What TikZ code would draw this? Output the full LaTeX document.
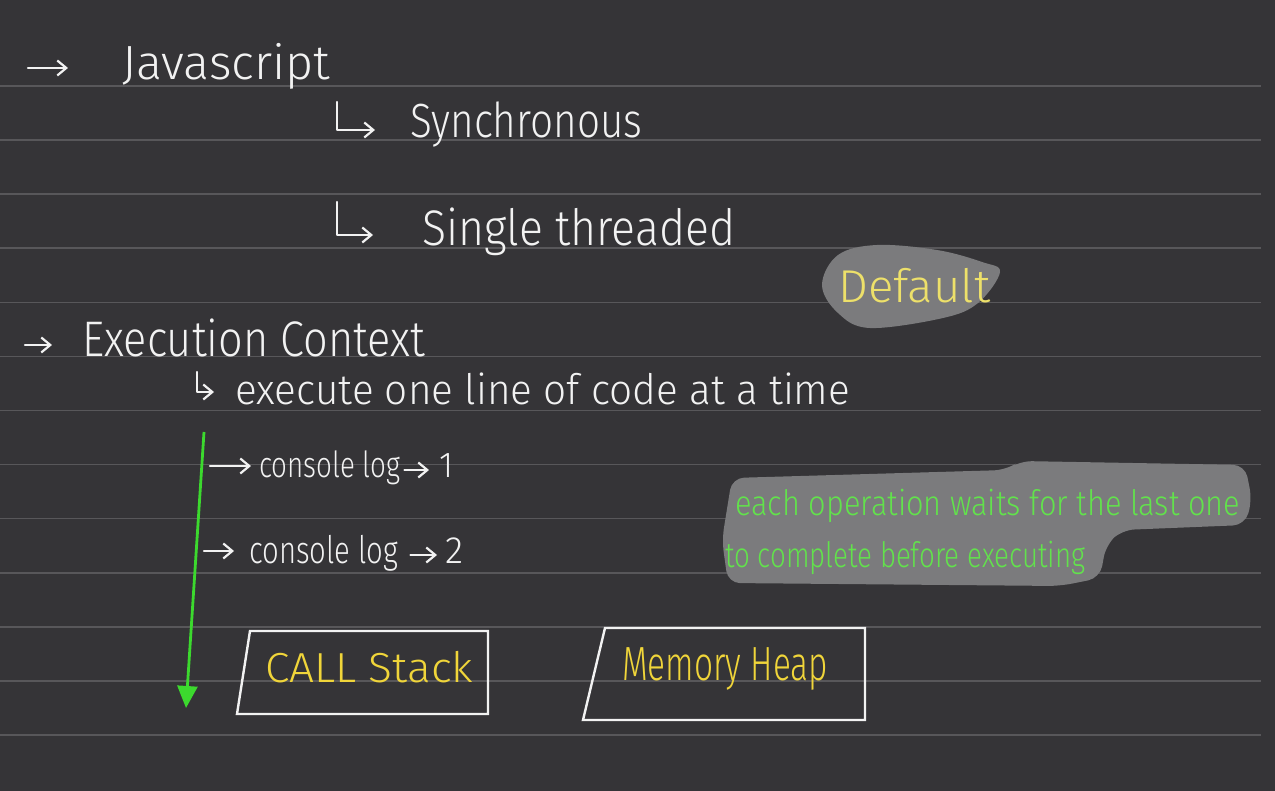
\documentclass[tikz,border=0pt]{standalone}
\usepackage{fontspec}
\usepackage{graphicx}
\usetikzlibrary{arrows.meta}
\newfontfamily\hand{Fira Sans Light}[FakeStretch=0.85]
\newcommand\handtxt[3]{\resizebox{#1pt}{\height}{\hand\fontsize{#2}{#2}\selectfont #3}}
\definecolor{bgc}{HTML}{353437}
\definecolor{rulec}{HTML}{58575A}
\definecolor{blobc}{HTML}{7B7B7D}
\definecolor{ink}{HTML}{F2F2F2}
\definecolor{yel}{HTML}{F0D53A}
\definecolor{yel2}{HTML}{EDE06A}
\definecolor{grn}{HTML}{62E24C}
\definecolor{grnarrow}{HTML}{3CD92E}
\tikzset{
  txt/.style={anchor=base west, inner sep=0pt, text=ink},
  wline/.style={draw=ink, line width=2.2pt, line cap=round, line join=round,
    -{Straight Barb[length=9pt,width=15pt,line width=2.2pt]}},
  boxline/.style={draw=ink, line width=2.4pt, line join=miter},
  ruleline/.style={draw=rulec, line width=1.6pt},
  blob/.style={fill=blobc},
  garrow/.style={draw=grnarrow, line width=2.8pt, -{Triangle[length=22pt,width=20pt]}}
}
\begin{document}
\begin{tikzpicture}[x=1pt,y=-1pt]
\useasboundingbox (0,0) rectangle (1275,791);
\fill[bgc] (0,0) rectangle (1275,791);
% ruled lines
\foreach \k in {0,...,12}{
  \draw[ruleline] (0,{86+54.08*\k}) -- (1261,{86+54.08*\k});
}
% highlight blobs
\fill[blob] plot[smooth cycle, tension=0.6] coordinates {(822,285) (838,255) (877,245) (937,250) (982,262) (1000,272) (978,303) (943,318) (870,328) (838,313)};
\fill[blob, rounded corners=12pt] (732,478) -- (1006,470) -- (1020,461) -- (1245,465) -- (1252,500) -- (1245,525) -- (1122,530) -- (1106,545) -- (1100,578) -- (1060,586) -- (728,583) -- (722,540) -- cycle;

% texts
\node[txt] (js) at (122,80) {\handtxt{208}{48}{Javascript}};
\node[txt] (syn) at (410,138) {\handtxt{232}{48}{Synchronous}};
\node[txt] (st) at (422,246) {\handtxt{313}{50}{Single threaded}};
\node[txt, text=yel2] (def) at (838,303) {\handtxt{152}{46}{Default}};
\node[txt] (ec) at (82,357) {\handtxt{343}{50}{Execution Context}};
\node[txt] (ex) at (235,405) {\handtxt{615}{42}{execute one line of code at a time}};
\node[txt] (c1) at (259,478) {\handtxt{141}{36}{console log}};
\node[txt] (n1) at (439,478) {\handtxt{14}{36}{1}};
\node[txt] (c2) at (249,563) {\handtxt{149}{38}{console log}};
\node[txt] (n2) at (445,563) {\handtxt{18}{38}{2}};
\node[txt, text=yel] (cs) at (265,682) {\handtxt{208}{42}{CALL Stack}};
\node[txt, text=yel] (mh) at (622,680) {\handtxt{206}{48}{Memory Heap}};
\node[txt, text=grn] (g1) at (735,515) {\handtxt{505}{35}{each operation waits for the last one}};
\node[txt, text=grn] (g2) at (725,567) {\handtxt{360}{35}{to complete before executing}};

% boxes
\draw[boxline] (250,631) -- (488,631) -- (488,714) -- (237,714) -- cycle;
\draw[boxline] (605,628) -- (865,628) -- (865,720) -- (583,720) -- cycle;

% white arrows
\coordinate (a1s) at (28,68);
\coordinate (a1e) at (68,68);
\draw[wline] (a1s) -- (a1e);
\coordinate (l1a) at (337,102);
\coordinate (l1b) at (375,130);
\draw[wline] (l1a) |- (l1b);
\coordinate (l2a) at (337,202);
\coordinate (l2b) at (373,235);
\draw[wline] (l2a) |- (l2b);
\coordinate (a2s) at (25,345);
\coordinate (a2e) at (52,345);
\draw[wline] (a2s) -- (a2e);
\coordinate (l3a) at (197,372);
\coordinate (l3b) at (214,392);
\draw[wline] (l3a) |- (l3b);
\coordinate (a3s) at (210,466);
\coordinate (a3e) at (251,466);
\draw[wline] (a3s) -- (a3e);
\coordinate (a4s) at (204,551);
\coordinate (a4e) at (234,551);
\draw[wline] (a4s) -- (a4e);
\draw[wline, shorten <=4pt, shorten >=10pt] (c1.east |- 0,470) -- (n1.west |- 0,470);
\draw[wline, shorten <=12pt, shorten >=8pt] (c2.east |- 0,555) -- (n2.west |- 0,555);

% green flow arrow
\coordinate (gtop) at (204,432);
\coordinate (gbot) at (186,708);
\draw[garrow] (gtop) -- (gbot);
\end{tikzpicture}
\end{document}
